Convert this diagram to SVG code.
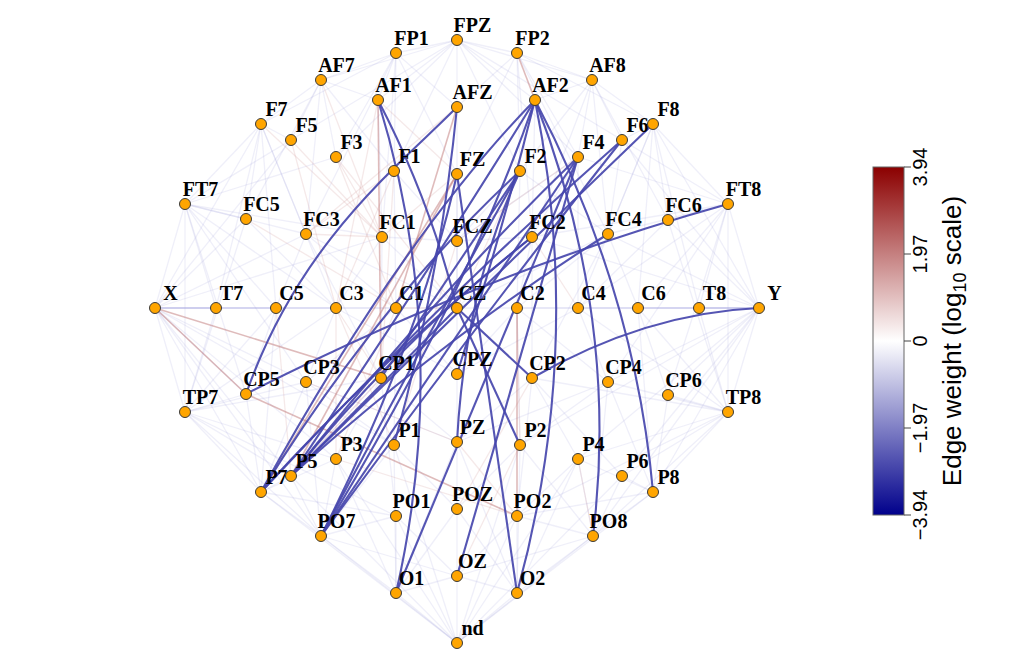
<svg xmlns="http://www.w3.org/2000/svg" width="1024" height="669" viewBox="0 0 1024 669">
<style>
.w{stroke:#9b9bd8;stroke-opacity:.16;stroke-width:1.3;fill:none}
.r{stroke:#d29a9a;stroke-opacity:.22;stroke-width:1.3;fill:none}
.rk{stroke:#c07878;stroke-opacity:.5;stroke-width:1.6;fill:none}
.b{stroke:#4747ac;stroke-opacity:.92;stroke-width:2.1;fill:none}
.nd circle{fill:#FFA500;stroke:#3a3a3a;stroke-width:1}
.nd text{font-family:"Liberation Serif","Times New Roman",serif;font-weight:bold;font-size:20px;fill:#000;text-anchor:middle}
.cb text{font-family:"Liberation Sans",Arial,sans-serif;fill:#000;text-anchor:middle}
</style>
<defs>
<linearGradient id="cbg" x1="0" y1="0" x2="0" y2="1">
<stop offset="0" stop-color="#8B0000"/><stop offset="0.5" stop-color="#FFFFFF"/><stop offset="1" stop-color="#00008B"/>
</linearGradient>
</defs>
<rect x="0" y="0" width="1024" height="669" fill="#fff"/>
<g id="connectors">
<g id="faint-neg">
<path class="w" d="M155,308L185,204"/><path class="w" d="M155,308L246,219"/><path class="w" d="M155,308L306,234"/><path class="w" d="M155,308L382,237"/><path class="w" d="M155,308L261,124"/><path class="w" d="M155,308L291,140"/><path class="w" d="M155,308L216,308"/><path class="w" d="M155,308L276,308"/><path class="w" d="M155,308L336,308"/><path class="w" d="M155,308L396,308"/><path class="w" d="M155,308L457,308"/><path class="w" d="M155,308L185,412"/><path class="w" d="M155,308L246,394"/><path class="w" d="M155,308L306,382"/><path class="w" d="M155,308L261,492"/><path class="w" d="M155,308L291,476"/><path class="w" d="M155,308L336,459"/><path class="w" d="M155,308L321,536"/><path class="w" d="M155,308L394,445"/>
<path class="w" d="M759,308L728,204"/><path class="w" d="M759,308L668,220"/><path class="w" d="M759,308L608,234"/><path class="w" d="M759,308L532,237"/><path class="w" d="M759,308L653,124"/><path class="w" d="M759,308L622,140"/><path class="w" d="M759,308L699,308"/><path class="w" d="M759,308L638,308"/><path class="w" d="M759,308L578,308"/><path class="w" d="M759,308L517,308"/><path class="w" d="M759,308L457,308"/><path class="w" d="M759,308L728,412"/><path class="w" d="M759,308L668,395"/><path class="w" d="M759,308L608,382"/><path class="w" d="M759,308L653,492"/><path class="w" d="M759,308L622,476"/><path class="w" d="M759,308L578,459"/><path class="w" d="M759,308L593,536"/><path class="w" d="M759,308L520,445"/>
<path class="w" d="M185,204L261,124"/><path class="w" d="M185,204L291,140"/><path class="w" d="M185,204L336,157"/><path class="w" d="M185,204L246,219"/><path class="w" d="M185,204L306,234"/><path class="w" d="M185,204L382,237"/><path class="w" d="M185,204L216,308"/><path class="w" d="M185,204L276,308"/><path class="w" d="M185,204L336,308"/><path class="w" d="M185,204L185,412"/><path class="w" d="M185,204L246,394"/><path class="w" d="M185,204L306,382"/>
<path class="w" d="M728,204L653,124"/><path class="w" d="M728,204L622,140"/><path class="w" d="M728,204L578,157"/><path class="w" d="M728,204L608,234"/><path class="w" d="M728,204L532,237"/><path class="w" d="M728,204L699,308"/><path class="w" d="M728,204L638,308"/><path class="w" d="M728,204L578,308"/><path class="w" d="M728,204L728,412"/><path class="w" d="M728,204L668,395"/><path class="w" d="M728,204L608,382"/>
<path class="w" d="M185,412L216,308"/><path class="w" d="M185,412L276,308"/><path class="w" d="M185,412L336,308"/><path class="w" d="M185,412L246,394"/><path class="w" d="M185,412L306,382"/><path class="w" d="M185,412L381,378"/><path class="w" d="M185,412L261,492"/><path class="w" d="M185,412L291,476"/><path class="w" d="M185,412L336,459"/><path class="w" d="M185,412L321,536"/><path class="w" d="M185,412L396,516"/><path class="w" d="M185,412L246,219"/>
<path class="w" d="M728,412L699,308"/><path class="w" d="M728,412L638,308"/><path class="w" d="M728,412L578,308"/><path class="w" d="M728,412L668,395"/><path class="w" d="M728,412L608,382"/><path class="w" d="M728,412L532,378"/><path class="w" d="M728,412L653,492"/><path class="w" d="M728,412L622,476"/><path class="w" d="M728,412L578,459"/><path class="w" d="M728,412L593,536"/><path class="w" d="M728,412L517,516"/><path class="w" d="M728,412L668,220"/>
<path class="w" d="M457,643L396,593"/><path class="w" d="M457,643L457,576"/><path class="w" d="M457,643L517,593"/><path class="w" d="M457,643L321,536"/><path class="w" d="M457,643L396,516"/><path class="w" d="M457,643L517,516"/><path class="w" d="M457,643L593,536"/><path class="w" d="M457,643L261,492"/><path class="w" d="M457,643L291,476"/><path class="w" d="M457,643L336,459"/><path class="w" d="M457,643L394,445"/><path class="w" d="M457,643L520,445"/><path class="w" d="M457,643L578,459"/><path class="w" d="M457,643L622,476"/><path class="w" d="M457,643L653,492"/>
<path class="w" d="M457,40L396,53"/><path class="w" d="M457,40L517,53"/><path class="w" d="M457,40L321,80"/><path class="w" d="M457,40L378,100"/><path class="w" d="M457,40L457,107"/><path class="w" d="M457,40L535,100"/><path class="w" d="M457,40L592,80"/><path class="w" d="M457,40L291,140"/><path class="w" d="M457,40L336,157"/><path class="w" d="M457,40L394,171"/><path class="w" d="M457,40L520,171"/><path class="w" d="M457,40L578,157"/><path class="w" d="M457,40L622,140"/>
<path class="w" d="M396,53L321,80"/><path class="w" d="M396,53L378,100"/><path class="w" d="M396,53L457,107"/><path class="w" d="M396,53L261,124"/><path class="w" d="M396,53L336,157"/><path class="w" d="M396,53L394,171"/><path class="w" d="M396,53L457,174"/><path class="w" d="M396,53L306,234"/><path class="w" d="M396,53L382,237"/>
<path class="w" d="M517,53L592,80"/><path class="w" d="M517,53L457,107"/><path class="w" d="M517,53L653,124"/><path class="w" d="M517,53L578,157"/><path class="w" d="M517,53L520,171"/><path class="w" d="M517,53L457,174"/><path class="w" d="M517,53L608,234"/><path class="w" d="M517,53L532,237"/>
<path class="w" d="M321,80L261,124"/><path class="w" d="M321,80L291,140"/><path class="w" d="M321,80L336,157"/><path class="w" d="M321,80L394,171"/><path class="w" d="M321,80L246,219"/><path class="w" d="M321,80L306,234"/><path class="w" d="M321,80L378,100"/>
<path class="w" d="M592,80L653,124"/><path class="w" d="M592,80L622,140"/><path class="w" d="M592,80L578,157"/><path class="w" d="M592,80L520,171"/><path class="w" d="M592,80L668,220"/><path class="w" d="M592,80L608,234"/><path class="w" d="M592,80L532,237"/><path class="w" d="M592,80L535,100"/>
<path class="w" d="M261,124L291,140"/><path class="w" d="M261,124L246,219"/><path class="w" d="M261,124L306,234"/><path class="w" d="M261,124L276,308"/><path class="w" d="M261,124L336,308"/><path class="w" d="M261,124L216,308"/>
<path class="w" d="M653,124L622,140"/><path class="w" d="M653,124L668,220"/><path class="w" d="M653,124L608,234"/><path class="w" d="M653,124L638,308"/><path class="w" d="M653,124L578,308"/><path class="w" d="M653,124L699,308"/>
<path class="w" d="M261,492L291,476"/><path class="w" d="M261,492L336,459"/><path class="w" d="M261,492L246,394"/><path class="w" d="M261,492L306,382"/><path class="w" d="M261,492L321,536"/><path class="w" d="M261,492L396,516"/><path class="w" d="M261,492L276,308"/>
<path class="w" d="M653,492L622,476"/><path class="w" d="M653,492L578,459"/><path class="w" d="M653,492L668,395"/><path class="w" d="M653,492L608,382"/><path class="w" d="M653,492L593,536"/><path class="w" d="M653,492L517,516"/><path class="w" d="M653,492L638,308"/>
<path class="w" d="M321,536L291,476"/><path class="w" d="M321,536L336,459"/><path class="w" d="M321,536L394,445"/><path class="w" d="M321,536L396,516"/><path class="w" d="M321,536L396,593"/><path class="w" d="M321,536L457,576"/><path class="w" d="M321,536L306,382"/>
<path class="w" d="M593,536L622,476"/><path class="w" d="M593,536L578,459"/><path class="w" d="M593,536L520,445"/><path class="w" d="M593,536L517,516"/><path class="w" d="M593,536L517,593"/><path class="w" d="M593,536L457,576"/><path class="w" d="M593,536L608,382"/>
<path class="w" d="M396,593L396,516"/><path class="w" d="M396,593L457,509"/><path class="w" d="M396,593L394,445"/><path class="w" d="M396,593L336,459"/><path class="w" d="M396,593L457,576"/><path class="w" d="M396,593L457,442"/>
<path class="w" d="M517,593L517,516"/><path class="w" d="M517,593L457,509"/><path class="w" d="M517,593L520,445"/><path class="w" d="M517,593L578,459"/><path class="w" d="M517,593L457,576"/><path class="w" d="M517,593L457,442"/>
<path class="w" d="M382,237L457,308"/><path class="w" d="M382,237L381,378"/><path class="w" d="M382,237L336,308"/><path class="w" d="M382,237L457,241"/><path class="w" d="M457,241L457,308"/><path class="w" d="M457,241L532,237"/><path class="w" d="M532,237L457,308"/><path class="w" d="M532,237L517,308"/><path class="w" d="M532,237L532,378"/><path class="w" d="M306,234L396,308"/><path class="w" d="M306,234L381,378"/><path class="w" d="M608,234L517,308"/><path class="w" d="M608,234L532,378"/><path class="w" d="M396,308L457,374"/><path class="w" d="M396,308L306,382"/><path class="w" d="M517,308L457,374"/><path class="w" d="M517,308L608,382"/><path class="w" d="M457,308L381,378"/><path class="w" d="M457,308L457,442"/><path class="w" d="M381,378L457,442"/><path class="w" d="M532,378L457,442"/><path class="w" d="M381,378L336,459"/><path class="w" d="M532,378L578,459"/><path class="w" d="M306,382L394,445"/><path class="w" d="M608,382L520,445"/><path class="w" d="M394,171L457,241"/><path class="w" d="M520,171L457,241"/><path class="w" d="M520,171L608,234"/><path class="w" d="M578,157L532,237"/><path class="w" d="M622,140L608,234"/><path class="w" d="M378,100L382,237"/><path class="w" d="M535,100L532,237"/><path class="w" d="M457,107L457,241"/><path class="w" d="M457,174L457,308"/><path class="w" d="M394,171L396,308"/><path class="w" d="M520,171L517,308"/><path class="w" d="M578,157L578,308"/><path class="w" d="M336,308L306,382"/><path class="w" d="M578,308L608,382"/><path class="w" d="M276,308L246,394"/><path class="w" d="M638,308L668,395"/><path class="w" d="M394,445L457,509"/><path class="w" d="M520,445L457,509"/><path class="w" d="M578,459L517,516"/><path class="w" d="M457,442L457,576"/><path class="w" d="M396,516L457,576"/><path class="w" d="M517,516L457,576"/><path class="w" d="M306,234L457,308"/><path class="w" d="M608,234L457,308"/><path class="w" d="M336,308L457,374"/><path class="w" d="M578,308L457,374"/><path class="w" d="M578,157L457,241"/><path class="w" d="M306,382L457,442"/><path class="w" d="M608,382L457,442"/><path class="w" d="M396,308L394,445"/><path class="w" d="M517,308L520,445"/><path class="w" d="M668,220L578,308"/><path class="w" d="M246,219L336,308"/><path class="w" d="M608,234L638,308"/><path class="w" d="M306,234L276,308"/><path class="w" d="M532,378L517,516"/><path class="w" d="M381,378L396,516"/><path class="w" d="M622,476L532,378"/><path class="w" d="M291,476L381,378"/>
</g>
<g id="faint-pos">
<path class="r" d="M336,157L382,237"/><path class="r" d="M291,140L382,237"/><path class="r" d="M336,157L396,308"/><path class="r" d="M394,171L306,234"/><path class="r" d="M378,100L336,308"/><path class="r" d="M457,107L306,234"/><path class="r" d="M394,171L381,378"/><path class="r" d="M336,308L381,378"/><path class="r" d="M336,157L457,308"/><path class="r" d="M396,308L336,459"/><path class="r" d="M336,308L394,445"/><path class="r" d="M306,382L457,442"/><path class="r" d="M457,241L394,445"/><path class="r" d="M394,171L336,308"/><path class="r" d="M321,80L382,237"/><path class="r" d="M457,174L382,237"/><path class="r" d="M396,308L457,308"/><path class="r" d="M532,237L578,308"/><path class="r" d="M520,171L457,308"/><path class="r" d="M532,378L457,509"/><path class="r" d="M517,308L520,445"/><path class="r" d="M578,157L457,241"/><path class="r" d="M291,140L336,308"/><path class="r" d="M261,124L382,237"/><path class="r" d="M246,219L396,308"/><path class="r" d="M378,100L457,174"/><path class="r" d="M336,308L336,459"/><path class="r" d="M276,308L291,476"/><path class="r" d="M381,378L291,476"/><path class="r" d="M336,459L517,516"/><path class="r" d="M457,442L517,516"/><path class="r" d="M306,234L382,237"/><path class="r" d="M520,445L457,576"/><path class="r" d="M578,459L593,536"/>
<path class="rk" d="M155,308L381,378"/><path class="rk" d="M155,308L246,394"/><path class="rk" d="M246,394L517,516"/><path class="rk" d="M457,107L396,308"/><path class="rk" d="M457,174L291,476"/><path class="rk" d="M457,174L261,492"/><path class="rk" d="M378,100L381,378"/><path class="rk" d="M517,53L535,100"/><path class="rk" d="M517,308L517,516"/>
</g>
<g id="strong-neg">
<path class="b" d="M378,100Q453,344 396,593"/>
<path class="b" d="M378,100Q430,200 457,308"/>
<path class="b" d="M457,308L532,378"/>
<path class="b" d="M457,308L520,445"/>
<path class="b" d="M457,107C400,165 300,240 246,394"/>
<path class="b" d="M728,204Q487,271 246,394"/>
<path class="b" d="M759,308Q645,313 532,378"/>
<path class="b" d="M535,100Q635,290 653,492"/>
<path class="b" d="M535,100Q620,318 593,536"/>
<path class="b" d="M535,100Q585,346 517,593"/>
<path class="b" d="M535,100Q402,236 261,492"/>
<path class="b" d="M535,100Q470,290 321,536"/>
<path class="b" d="M535,100Q500,240 457,374"/>
<path class="b" d="M535,100Q430,270 291,476"/>
<path class="b" d="M520,171Q380,300 261,492"/>
<path class="b" d="M520,171Q430,330 321,536"/>
<path class="b" d="M381,378L520,171"/>
<path class="b" d="M532,237Q400,340 291,476"/>
<path class="b" d="M532,237Q390,350 261,492"/>
<path class="b" d="M457,308L291,476"/>
<path class="b" d="M578,157Q430,300 291,476"/>
<path class="b" d="M578,157Q460,330 321,536"/>
<path class="b" d="M578,157L396,593"/>
<path class="b" d="M578,157L457,576"/>
<path class="b" d="M653,124Q480,290 291,476"/>
<path class="b" d="M622,140Q480,320 321,536"/>
<path class="b" d="M608,234Q440,340 291,476"/>
<path class="b" d="M622,140Q440,300 261,492"/>
<path class="b" d="M457,174L517,593"/>
<path class="b" d="M457,174Q420,340 321,536"/>
<path class="b" d="M457,107Q440,280 394,445"/>
<path class="b" d="M457,442Q465,290 520,171"/>
</g>
</g>
<g id="nodes">
<g id="n-FP1" class="nd"><circle cx="396" cy="53" r="5.5"/><text x="411.5" y="44.5">FP1</text></g>
<g id="n-FPZ" class="nd"><circle cx="457" cy="40" r="5.5"/><text x="472.5" y="31.5">FPZ</text></g>
<g id="n-FP2" class="nd"><circle cx="517" cy="53" r="5.5"/><text x="532.5" y="44.5">FP2</text></g>
<g id="n-AF7" class="nd"><circle cx="321" cy="80" r="5.5"/><text x="336.5" y="71.5">AF7</text></g>
<g id="n-AF1" class="nd"><circle cx="378" cy="100" r="5.5"/><text x="393.5" y="91.5">AF1</text></g>
<g id="n-AFZ" class="nd"><circle cx="457" cy="107" r="5.5"/><text x="472.5" y="98.5">AFZ</text></g>
<g id="n-AF2" class="nd"><circle cx="535" cy="100" r="5.5"/><text x="550.5" y="91.5">AF2</text></g>
<g id="n-AF8" class="nd"><circle cx="592" cy="80" r="5.5"/><text x="607.5" y="71.5">AF8</text></g>
<g id="n-F7" class="nd"><circle cx="261" cy="124" r="5.5"/><text x="276.5" y="115.5">F7</text></g>
<g id="n-F5" class="nd"><circle cx="291" cy="140" r="5.5"/><text x="306.5" y="131.5">F5</text></g>
<g id="n-F3" class="nd"><circle cx="336" cy="157" r="5.5"/><text x="351.5" y="148.5">F3</text></g>
<g id="n-F1" class="nd"><circle cx="394" cy="171" r="5.5"/><text x="409.5" y="162.5">F1</text></g>
<g id="n-FZ" class="nd"><circle cx="457" cy="174" r="5.5"/><text x="472.5" y="165.5">FZ</text></g>
<g id="n-F2" class="nd"><circle cx="520" cy="171" r="5.5"/><text x="535.5" y="162.5">F2</text></g>
<g id="n-F4" class="nd"><circle cx="578" cy="157" r="5.5"/><text x="593.5" y="148.5">F4</text></g>
<g id="n-F6" class="nd"><circle cx="622" cy="140" r="5.5"/><text x="637.5" y="131.5">F6</text></g>
<g id="n-F8" class="nd"><circle cx="653" cy="124" r="5.5"/><text x="668.5" y="115.5">F8</text></g>
<g id="n-FT7" class="nd"><circle cx="185" cy="204" r="5.5"/><text x="200.5" y="195.5">FT7</text></g>
<g id="n-FC5" class="nd"><circle cx="246" cy="219" r="5.5"/><text x="261.5" y="210.5">FC5</text></g>
<g id="n-FC3" class="nd"><circle cx="306" cy="234" r="5.5"/><text x="321.5" y="225.5">FC3</text></g>
<g id="n-FC1" class="nd"><circle cx="382" cy="237" r="5.5"/><text x="397.5" y="228.5">FC1</text></g>
<g id="n-FCZ" class="nd"><circle cx="457" cy="241" r="5.5"/><text x="472.5" y="232.5">FCZ</text></g>
<g id="n-FC2" class="nd"><circle cx="532" cy="237" r="5.5"/><text x="547.5" y="228.5">FC2</text></g>
<g id="n-FC4" class="nd"><circle cx="608" cy="234" r="5.5"/><text x="623.5" y="225.5">FC4</text></g>
<g id="n-FC6" class="nd"><circle cx="668" cy="220" r="5.5"/><text x="683.5" y="211.5">FC6</text></g>
<g id="n-FT8" class="nd"><circle cx="728" cy="204" r="5.5"/><text x="743.5" y="195.5">FT8</text></g>
<g id="n-X" class="nd"><circle cx="155" cy="308" r="5.5"/><text x="170.5" y="299.5">X</text></g>
<g id="n-T7" class="nd"><circle cx="216" cy="308" r="5.5"/><text x="231.5" y="299.5">T7</text></g>
<g id="n-C5" class="nd"><circle cx="276" cy="308" r="5.5"/><text x="291.5" y="299.5">C5</text></g>
<g id="n-C3" class="nd"><circle cx="336" cy="308" r="5.5"/><text x="351.5" y="299.5">C3</text></g>
<g id="n-C1" class="nd"><circle cx="396" cy="308" r="5.5"/><text x="411.5" y="299.5">C1</text></g>
<g id="n-CZ" class="nd"><circle cx="457" cy="308" r="5.5"/><text x="472.5" y="299.5">CZ</text></g>
<g id="n-C2" class="nd"><circle cx="517" cy="308" r="5.5"/><text x="532.5" y="299.5">C2</text></g>
<g id="n-C4" class="nd"><circle cx="578" cy="308" r="5.5"/><text x="593.5" y="299.5">C4</text></g>
<g id="n-C6" class="nd"><circle cx="638" cy="308" r="5.5"/><text x="653.5" y="299.5">C6</text></g>
<g id="n-T8" class="nd"><circle cx="699" cy="308" r="5.5"/><text x="714.5" y="299.5">T8</text></g>
<g id="n-Y" class="nd"><circle cx="759" cy="308" r="5.5"/><text x="774.5" y="299.5">Y</text></g>
<g id="n-TP7" class="nd"><circle cx="185" cy="412" r="5.5"/><text x="200.5" y="403.5">TP7</text></g>
<g id="n-CP5" class="nd"><circle cx="246" cy="394" r="5.5"/><text x="261.5" y="385.5">CP5</text></g>
<g id="n-CP3" class="nd"><circle cx="306" cy="382" r="5.5"/><text x="321.5" y="373.5">CP3</text></g>
<g id="n-CP1" class="nd"><circle cx="381" cy="378" r="5.5"/><text x="396.5" y="369.5">CP1</text></g>
<g id="n-CPZ" class="nd"><circle cx="457" cy="374" r="5.5"/><text x="472.5" y="365.5">CPZ</text></g>
<g id="n-CP2" class="nd"><circle cx="532" cy="378" r="5.5"/><text x="547.5" y="369.5">CP2</text></g>
<g id="n-CP4" class="nd"><circle cx="608" cy="382" r="5.5"/><text x="623.5" y="373.5">CP4</text></g>
<g id="n-CP6" class="nd"><circle cx="668" cy="395" r="5.5"/><text x="683.5" y="386.5">CP6</text></g>
<g id="n-TP8" class="nd"><circle cx="728" cy="412" r="5.5"/><text x="743.5" y="403.5">TP8</text></g>
<g id="n-P7" class="nd"><circle cx="261" cy="492" r="5.5"/><text x="276.5" y="483.5">P7</text></g>
<g id="n-P5" class="nd"><circle cx="291" cy="476" r="5.5"/><text x="306.5" y="467.5">P5</text></g>
<g id="n-P3" class="nd"><circle cx="336" cy="459" r="5.5"/><text x="351.5" y="450.5">P3</text></g>
<g id="n-P1" class="nd"><circle cx="394" cy="445" r="5.5"/><text x="409.5" y="436.5">P1</text></g>
<g id="n-PZ" class="nd"><circle cx="457" cy="442" r="5.5"/><text x="472.5" y="433.5">PZ</text></g>
<g id="n-P2" class="nd"><circle cx="520" cy="445" r="5.5"/><text x="535.5" y="436.5">P2</text></g>
<g id="n-P4" class="nd"><circle cx="578" cy="459" r="5.5"/><text x="593.5" y="450.5">P4</text></g>
<g id="n-P6" class="nd"><circle cx="622" cy="476" r="5.5"/><text x="637.5" y="467.5">P6</text></g>
<g id="n-P8" class="nd"><circle cx="653" cy="492" r="5.5"/><text x="668.5" y="483.5">P8</text></g>
<g id="n-PO7" class="nd"><circle cx="321" cy="536" r="5.5"/><text x="336.5" y="527.5">PO7</text></g>
<g id="n-PO1" class="nd"><circle cx="396" cy="516" r="5.5"/><text x="411.5" y="507.5">PO1</text></g>
<g id="n-POZ" class="nd"><circle cx="457" cy="509" r="5.5"/><text x="472.5" y="500.5">POZ</text></g>
<g id="n-PO2" class="nd"><circle cx="517" cy="516" r="5.5"/><text x="532.5" y="507.5">PO2</text></g>
<g id="n-PO8" class="nd"><circle cx="593" cy="536" r="5.5"/><text x="608.5" y="527.5">PO8</text></g>
<g id="n-O1" class="nd"><circle cx="396" cy="593" r="5.5"/><text x="411.5" y="584.5">O1</text></g>
<g id="n-OZ" class="nd"><circle cx="457" cy="576" r="5.5"/><text x="472.5" y="567.5">OZ</text></g>
<g id="n-O2" class="nd"><circle cx="517" cy="593" r="5.5"/><text x="532.5" y="584.5">O2</text></g>
<g id="n-nd" class="nd"><circle cx="457" cy="643" r="5.5"/><text x="472.5" y="634.5">nd</text></g>
</g>
<g id="colorbar" class="cb">
<rect x="873" y="167" width="31" height="348" fill="url(#cbg)" stroke="#666" stroke-width="1"/>
<path d="M904,167H911M904,254H911M904,341H911M904,428H911M904,515H911" stroke="#444" stroke-width="1" fill="none"/>
<text font-size="20" transform="translate(927,167) rotate(-90)">3.94</text>
<text font-size="20" transform="translate(927,254) rotate(-90)">1.97</text>
<text font-size="20" transform="translate(927,341) rotate(-90)">0</text>
<text font-size="20" transform="translate(927,428) rotate(-90)">−1.97</text>
<text font-size="20" transform="translate(927,515) rotate(-90)">−3.94</text>
<text font-size="26" transform="translate(961,341) rotate(-90)">Edge weight (log<tspan font-size="18" dy="5">10</tspan><tspan dy="-5"> scale)</tspan></text>
</g>
</svg>
